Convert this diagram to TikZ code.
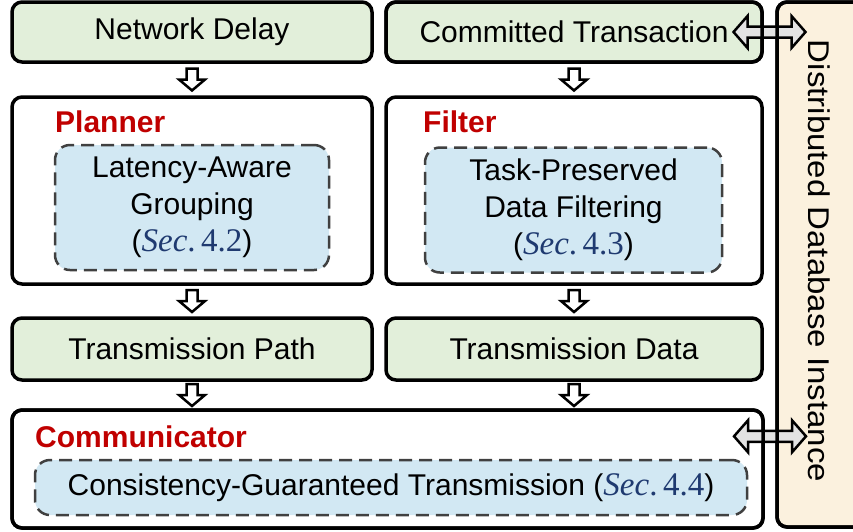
\documentclass[tikz,border=0pt]{standalone}
\usepackage{fontspec}
\setmainfont{Liberation Sans}
\newfontfamily\secfont[Scale=1.1]{Liberation Serif}
\usepackage{xcolor}
\usetikzlibrary{calc}

\definecolor{boxgreen}{HTML}{E2EFDA}
\definecolor{boxblue}{HTML}{D2E8F3}
\definecolor{boxbeige}{HTML}{FBF1DE}
\definecolor{labelred}{HTML}{C00000}
\definecolor{secblue}{HTML}{1F3A70}
\definecolor{dashgray}{HTML}{404040}

\newcommand{\secno}[1]{(\textcolor{secblue}{\secfont\textit{Sec}.\,#1})}

\tikzset{
  greenbox/.style={draw, line width=3.5pt, fill=boxgreen, rounded corners=10pt,
    minimum width=360pt, minimum height=60pt, inner sep=0pt, outer sep=0pt},
  outerbox/.style={draw, line width=3.5pt, fill=white, rounded corners=10pt,
    minimum width=360pt, minimum height=187pt, inner sep=0pt, outer sep=0pt},
  dashbox/.style={draw=dashgray, line width=2.5pt, dash pattern=on 13pt off 7pt,
    fill=boxblue, rounded corners=15pt, minimum height=125pt, align=center,
    inner sep=0pt, outer sep=0pt},
  dbbox/.style={draw, line width=3.5pt, fill=boxbeige, rounded corners=10pt,
    minimum width=102pt, minimum height=525pt, inner sep=0pt, outer sep=0pt},
  redlabel/.style={anchor=base west, inner sep=0pt, text=labelred,
    font=\fontsize{30}{37}\selectfont\bfseries},
  flowarrow/.style={draw=black, line width=2.5pt, line join=miter, fill=white},
  pics/downflow/.style={code={
    \filldraw[flowarrow] (-5.5,-11) -- (5.5,-11) -- (5.5,0) -- (13,0)
      -- (0,11) -- (-13,0) -- (-5.5,0) -- cycle;}},
  pics/bothflow/.style={code={
    \filldraw[flowarrow, fill=gray!22] (-36,0) -- (-22,-16) -- (-22,-5.5)
      -- (22,-5.5) -- (22,-16) -- (36,0) -- (22,16) -- (22,5.5)
      -- (-22,5.5) -- (-22,16) -- cycle;}}
}

\begin{document}
\begin{tikzpicture}[x=1pt, y=-1pt, every node/.style={font=\fontsize{30}{37}\selectfont}]
  \useasboundingbox (0,0) rectangle (853,531);

  % database on the right
  \node[dbbox] (db) at (828,264.5) {};
  \node[rotate=-90, inner sep=0pt] (dblabel) at (819,261) {\scalebox{1.1}[1]{Distributed Database Instance}};

  % inputs
  \node[greenbox] (delay) at (192,32) {Network Delay};
  \node[greenbox, minimum width=376pt] (committed) at (574,32) {Committed Transaction};

  % planner and filter
  \node[outerbox] (planner) at (192,190.5) {};
  \node[outerbox, minimum width=376pt] (filter) at (574,190.5) {};
  \node[redlabel] (plannerlabel) at (55,132) {Planner};
  \node[redlabel] (filterlabel) at (423,132) {Filter};
  \node[dashbox, minimum width=274pt] (grouping) at (192,207.5) {Latency-Aware\\Grouping\\\secno{4.2}};
  \node[dashbox, minimum width=297pt] (filtering) at (573.5,210) {Task-Preserved\\Data Filtering\\\secno{4.3}};

  % outputs
  \node[greenbox, minimum height=62pt] (path) at (192,349) {Transmission Path};
  \node[greenbox, minimum width=376pt, minimum height=62pt] (data) at (574,349) {Transmission Data};

  % communicator
  \node[outerbox, minimum width=751pt, minimum height=118pt] (comm) at (387.5,469) {};
  \node[redlabel] (commlabel) at (35,447) {Communicator};
  \node[dashbox, minimum width=712pt, minimum height=55pt] (consist) at (391,487.5) {Consistency-Guaranteed Transmission \secno{4.4}};

  % flow arrows
  \pic at ($(delay.south)!0.5!(planner.north)$) {downflow};
  \pic at ($(committed.south)!0.5!(filter.north)$) {downflow};
  \pic at ($(planner.south)!0.5!(path.north)$) {downflow};
  \pic at ($(filter.south)!0.5!(data.north)$) {downflow};
  \pic at ($(path.south)!0.5!(comm.north -| path.south)$) {downflow};
  \pic at ($(data.south)!0.5!(comm.north -| data.south)$) {downflow};

  % links to the database
  \pic at ($(committed.east)!0.5!(db.west |- committed.east)$) {bothflow};
  \pic at ($(comm.east |- commlabel.center)!0.5!(db.west |- commlabel.center)$) {bothflow};
  \foreach \b in {committed, comm, db}
    \draw[line width=3.5pt, rounded corners=10pt] (\b.south west) rectangle (\b.north east);
\end{tikzpicture}
\end{document}
